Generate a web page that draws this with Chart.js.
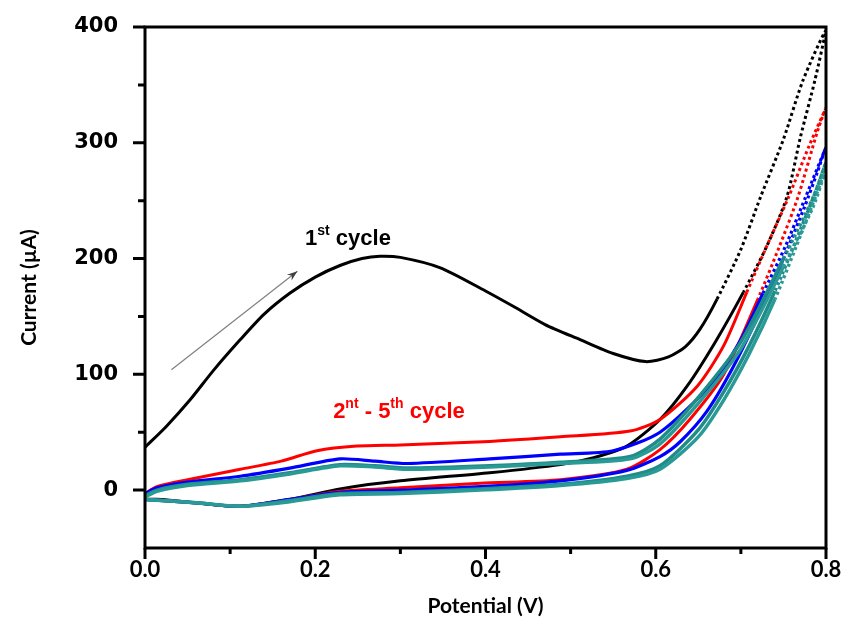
<!DOCTYPE html>
<html>
<head>
<meta charset="utf-8">
<script src="https://cdn.jsdelivr.net/npm/chart.js@4.4.1/dist/chart.umd.min.js"></script>
<style>
  html, body { margin: 0; padding: 0; background: #fff; }
  #wrap { width: 855px; height: 619px; }
</style>
</head>
<body>
<div id="wrap"><canvas id="cv" width="855" height="619"></canvas></div>
<script>
// Potential (V) and current (µA).
// Every cycle runs 0 -> 0.8 V (forward) and back to 0 V (reverse).

const cycle1X = [0, 0.025, 0.053, 0.08, 0.112, 0.14, 0.17, 0.2, 0.229, 0.255, 0.276, 0.3, 0.347, 0.4, 0.432, 0.47, 0.511, 0.55, 0.588, 0.615, 0.635, 0.652, 0.672, 0.7, 0.723, 0.75, 0.773, 0.8,
                 0.787, 0.77, 0.754, 0.73, 0.703, 0.67, 0.637, 0.605, 0.566, 0.527, 0.488, 0.405, 0.3, 0.229, 0.17, 0.112, 0.06, 0.02, 0];
const cycle1Y = [37, 55, 78, 103, 130, 152, 170, 184, 194, 200, 202, 201, 192, 172, 159, 143, 130, 118, 111, 115, 124, 139, 165, 208, 253, 303, 354, 397,
                 354, 305, 253, 210, 171, 128, 90, 61, 38, 28, 22, 15, 8, 1, -8, -14, -11, -8, -8];

const cycle2X = [0, 0.014, 0.05, 0.112, 0.16, 0.202, 0.249, 0.3, 0.405, 0.488, 0.57, 0.605, 0.649, 0.68, 0.707, 0.73, 0.756, 0.78, 0.8,
                 0.79, 0.767, 0.745, 0.72, 0.68, 0.64, 0.605, 0.566, 0.488, 0.394, 0.3, 0.229, 0.17, 0.112, 0.06, 0];
const cycle2Y = [-3, 3, 9, 18, 25, 34, 38, 39, 42, 46, 51, 61, 90, 125, 171, 210, 253, 297, 330,
                 310, 253, 210, 165, 100, 61, 35, 18, 9, 6, 2, -1, -8, -14, -11, -8];

const cycle3X = [0, 0.014, 0.05, 0.112, 0.17, 0.229, 0.27, 0.308, 0.405, 0.488, 0.55, 0.605, 0.667, 0.7, 0.726, 0.752, 0.776, 0.8,
                 0.79, 0.775, 0.75, 0.72, 0.69, 0.66, 0.629, 0.605, 0.566, 0.488, 0.394, 0.3, 0.229, 0.17, 0.112, 0.06, 0];
const cycle3Y = [-3, 2, 7, 12, 19, 27, 25, 23, 27, 31, 34, 50, 93, 130, 170, 210, 253, 296,
                 275, 245, 200, 150, 105, 68, 42, 29, 17, 8, 3, 0, -2, -8, -14, -11, -8];

const cycle4X = [0, 0.014, 0.05, 0.112, 0.17, 0.229, 0.27, 0.308, 0.405, 0.488, 0.57, 0.605, 0.65, 0.7, 0.75, 0.785, 0.8,
                 0.79, 0.77, 0.74, 0.71, 0.68, 0.65, 0.605, 0.566, 0.488, 0.394, 0.3, 0.229, 0.17, 0.112, 0.06, 0];
const cycle4Y = [-5, 0, 5, 9, 15, 22, 21, 19, 21, 24, 29, 44, 80, 128, 200, 253, 283,
                 262, 225, 172, 125, 85, 52, 21, 12, 5, 1, -2, -3, -9, -14, -11, -8];

const cycle5X = [0, 0.014, 0.05, 0.112, 0.17, 0.229, 0.27, 0.308, 0.405, 0.488, 0.57, 0.605, 0.65, 0.7, 0.75, 0.785, 0.8,
                 0.79, 0.77, 0.74, 0.71, 0.68, 0.65, 0.605, 0.566, 0.488, 0.394, 0.3, 0.229, 0.17, 0.112, 0.06, 0];
const cycle5Y = [-6, -1, 4, 8, 14, 21, 20, 18, 20, 23, 27, 40, 75, 122, 193, 245, 278,
                 258, 220, 165, 118, 78, 46, 18, 10, 4, 0, -3, -4, -10, -14, -11, -8];

// axis ticks
const xMajor = [0, 0.2, 0.4, 0.6, 0.8];
const xMinor = [0.1, 0.3, 0.5, 0.7];
const yMajor = [0, 100, 200, 300, 400];
const yMinor = [50, 150, 250, 350];

const toPts = (xs, ys) => xs.map((x, i) => ({ x: x, y: ys[i] }));

// the steep rising part near 0.8 V looks dotted in the original (sparse points)
const dotted = ctx => (ctx.p0.parsed.x > 0.66 && ctx.p1.parsed.x > 0.66 &&
                       ctx.p0.parsed.y > 150 && ctx.p1.parsed.y > 150) ? [3, 3] : undefined;

function line(label, xs, ys, color, width, order) {
  return {
    label: label,
    data: toPts(xs, ys),
    showLine: true,
    borderColor: color,
    backgroundColor: color,
    borderWidth: width,
    pointRadius: 0,
    tension: 0.25,
    fill: false,
    order: order,
    segment: { borderDash: dotted }
  };
}

// ============================================================
// frame, tick marks, notes and arrow
// ============================================================
function richText(ctx, parts, x, y, color) {
  ctx.fillStyle = color;
  ctx.textBaseline = 'alphabetic';
  ctx.textAlign = 'left';
  let cx = x;
  parts.forEach(p => {
    ctx.font = p.sup ? 'bold 14px "Liberation Sans", Arial, sans-serif' : 'bold 22px "Liberation Sans", Arial, sans-serif';
    ctx.fillText(p.t, cx, p.sup ? y - 10 : y);
    cx += ctx.measureText(p.t).width;
  });
}

const decor = {
  id: 'decor',
  afterDraw(chart) {
    const { ctx, chartArea: a, scales: { x, y } } = chart;
    ctx.save();
    ctx.strokeStyle = '#000';
    ctx.lineWidth = 3;
    ctx.strokeRect(a.left, a.top, a.right - a.left, a.bottom - a.top);

    ctx.beginPath();
    yMajor.forEach(v => { const p = y.getPixelForValue(v); ctx.moveTo(a.left - 12, p); ctx.lineTo(a.left, p); });
    yMinor.forEach(v => { const p = y.getPixelForValue(v); ctx.moveTo(a.left - 7, p); ctx.lineTo(a.left, p); });
    xMajor.forEach(v => { const p = x.getPixelForValue(v); ctx.moveTo(p, a.bottom); ctx.lineTo(p, a.bottom + 11); });
    xMinor.forEach(v => { const p = x.getPixelForValue(v); ctx.moveTo(p, a.bottom); ctx.lineTo(p, a.bottom + 6); });
    ctx.stroke();

    // arrow for the scan direction
    const x0 = x.getPixelForValue(0.031), y0 = y.getPixelForValue(104);
    const x1 = x.getPixelForValue(0.179), y1 = y.getPixelForValue(189);
    ctx.strokeStyle = '#808080';
    ctx.fillStyle = '#404040';
    ctx.lineWidth = 1.2;
    ctx.beginPath();
    ctx.moveTo(x0, y0);
    ctx.lineTo(x1, y1);
    ctx.stroke();
    const ang = Math.atan2(y1 - y0, x1 - x0);
    ctx.beginPath();
    ctx.moveTo(x1, y1);
    ctx.lineTo(x1 - 11 * Math.cos(ang - 0.35), y1 - 11 * Math.sin(ang - 0.35));
    ctx.lineTo(x1 - 7 * Math.cos(ang), y1 - 7 * Math.sin(ang));
    ctx.lineTo(x1 - 11 * Math.cos(ang + 0.35), y1 - 11 * Math.sin(ang + 0.35));
    ctx.closePath();
    ctx.fill();

    richText(ctx, [{ t: '1' }, { t: 'st', sup: true }, { t: ' cycle' }],
      x.getPixelForValue(0.188), y.getPixelForValue(212), '#000');
    richText(ctx, [{ t: '2' }, { t: 'nt', sup: true }, { t: ' - 5' }, { t: 'th', sup: true }, { t: ' cycle' }],
      x.getPixelForValue(0.221), y.getPixelForValue(62), '#ff0000');
    ctx.restore();
  }
};

new Chart(document.getElementById('cv'), {
  type: 'scatter',
  data: {
    datasets: [
      line('1st cycle', cycle1X, cycle1Y, '#000000', 3, 5),
      line('2nd cycle', cycle2X, cycle2Y, '#ff0000', 3, 4),
      line('3rd cycle', cycle3X, cycle3Y, '#0000ff', 3.2, 3),
      line('4th cycle', cycle4X, cycle4Y, '#1f8c88', 3.5, 2),
      line('5th cycle', cycle5X, cycle5Y, '#2a9a96', 3.5, 1)
    ]
  },
  options: {
    responsive: false,
    devicePixelRatio: 1,
    animation: false,
    layout: { padding: { top: 27, right: 29, left: 0, bottom: 0 } },
    plugins: { legend: { display: false }, tooltip: { enabled: false } },
    scales: {
      x: {
        type: 'linear',
        min: 0, max: 0.8,
        grid: { display: false, drawTicks: false },
        border: { display: false },
        afterFit: s => { s.height = 71; s.paddingLeft = 0; s.paddingRight = 0; },
        ticks: {
          stepSize: 0.1,
          padding: 9,
          color: '#000',
          maxRotation: 0,
          autoSkip: false,
          font: { family: 'Lato', weight: 'bold', size: 22 },
          callback: v => (Math.round(v * 10) % 2 === 0 ? v.toFixed(1) : '')
        },
        title: {
          display: true,
          text: 'Potential (V)',
          color: '#000',
          font: { family: 'Lato', weight: 'bold', size: 21 },
          padding: { top: 0, bottom: 0 }
        }
      },
      y: {
        type: 'linear',
        min: -50, max: 400,
        grid: { display: false, drawTicks: false },
        border: { display: false },
        afterFit: s => { s.width = 145; s.paddingTop = 0; s.paddingBottom = 0; },
        ticks: {
          stepSize: 50,
          padding: 27,
          color: '#000',
          autoSkip: false,
          font: { family: 'DejaVu Sans', weight: 'bold', size: 21 },
          callback: v => (v % 100 === 0 && v >= 0 ? String(v) : '')
        },
        title: {
          display: true,
          text: 'Current (µA)',
          color: '#000',
          font: { family: 'Lato', weight: 'bold', size: 21 },
          padding: { top: 17, bottom: 0 }
        }
      }
    }
  },
  plugins: [decor]
});
</script>
</body>
</html>
